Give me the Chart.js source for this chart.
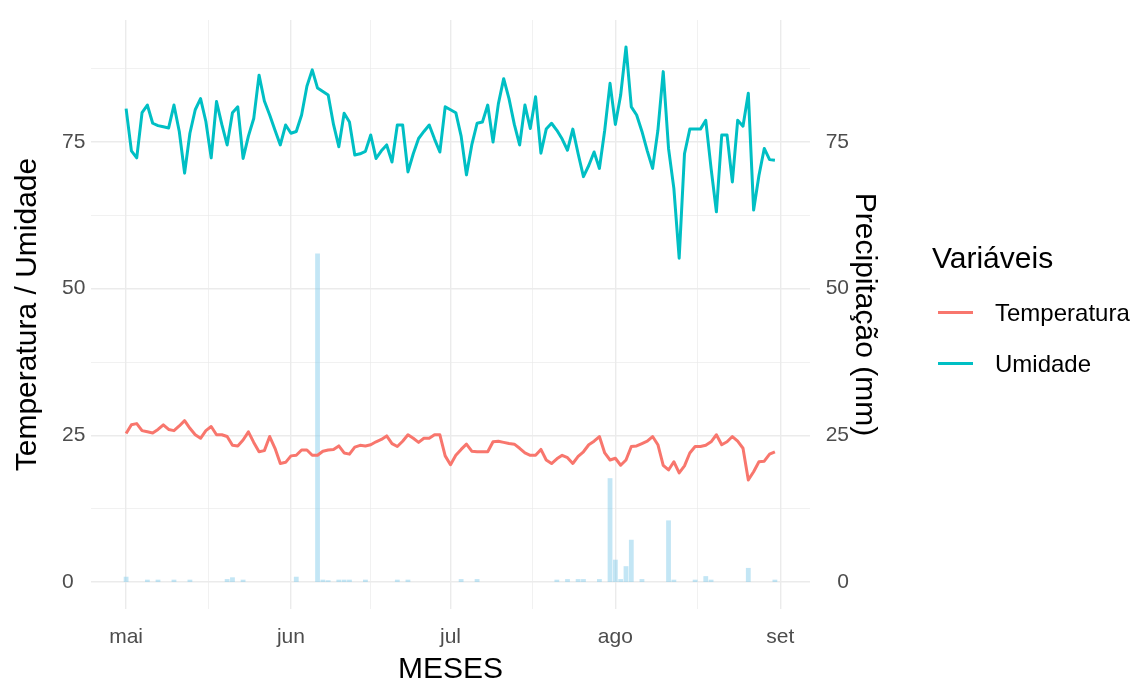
<!DOCTYPE html>
<html lang="pt-BR">
<head>
<meta charset="utf-8">
<title>Temperatura, Umidade e Precipitação</title>
<script src="https://cdn.jsdelivr.net/npm/chart.js@4.4.1/dist/chart.umd.min.js"></script>
<style>
  html, body { margin: 0; padding: 0; background: #fff; }
  #wrap { position: relative; width: 1139px; height: 684px; font-family: "Liberation Sans", Arial, sans-serif; color: #000; }
  #grafico { position: absolute; left: 0; top: 0; }
  .leg-titulo { position: absolute; left: 932px; top: 243px; font-size: 30px; line-height: 30px; white-space: nowrap; }
  .leg-item { position: absolute; left: 938px; height: 24px; white-space: nowrap; }
  .leg-linha { position: absolute; left: 0; top: 10px; width: 35px; height: 3px; }
  .leg-texto { position: absolute; left: 57px; top: 0; font-size: 24px; line-height: 24px; }
</style>
</head>
<body>
<div id="wrap">
  <canvas id="grafico" width="1139" height="684"></canvas>
  <div id="legenda"></div>
</div>
<script>
// Dias de 1º de maio a 31 de agosto (índice 0 = 1º de maio)
const mesesPos = [0, 31, 61, 92, 123];
const mesesRotulos = ['mai', 'jun', 'jul', 'ago', 'set'];
const yRotulos = [0, 25, 50, 75];

// Temperatura média diária (°C)
const temperatura = [
  // maio
  25.3, 26.8, 27.0, 25.8, 25.6, 25.4, 26.0, 26.8, 26.0, 25.8, 26.6, 27.5, 26.2, 25.1, 24.5, 25.8,
  26.5, 25.1, 25.1, 24.8, 23.3, 23.2, 24.2, 25.6, 23.8, 22.2, 22.4, 24.8, 22.8, 20.2, 20.4,
  // junho
  21.5, 21.6, 22.5, 22.5, 21.6, 21.6, 22.3, 22.5, 22.6, 23.2, 22.0, 21.8, 23.0, 23.3, 23.2,
  23.4, 23.9, 24.3, 24.9, 23.6, 23.1, 24.0, 25.1, 24.5, 23.8, 24.5, 24.5, 25.1, 25.1, 21.5,
  // julho
  20.0, 21.6, 22.6, 23.5, 22.3, 22.2, 22.2, 22.2, 23.9, 24.0, 23.8, 23.6, 23.5, 22.8, 22.0, 21.6,
  21.6, 22.6, 20.8, 20.2, 21.0, 21.6, 21.2, 20.2, 21.4, 22.2, 23.4, 24.0, 24.8, 22.0, 20.8,
  // agosto
  21.1, 19.9, 20.8, 23.1, 23.2, 23.6, 24.0, 24.8, 23.4, 19.9, 19.1, 20.5, 18.6, 19.8, 22.0, 23.1,
  23.1, 23.3, 23.9, 25.1, 23.4, 23.9, 24.8, 24.0, 22.8, 17.4, 18.8, 20.5, 20.6, 21.8, 22.2
];

// Umidade relativa média diária (%)
const umidade = [
  // maio
  80.7, 73.5, 72.3, 80.0, 81.3, 78.2, 77.8, 77.6, 77.4, 81.3, 76.8, 69.7, 76.5, 80.5, 82.4, 78.5,
  72.3, 81.9, 78.0, 74.5, 80.0, 81.0, 72.2, 76.0, 79.0, 86.4, 82.0, 79.6, 77.0, 74.5, 77.9,
  // junho
  76.5, 76.8, 79.6, 84.5, 87.3, 84.2, 83.6, 83.0, 78.0, 74.2, 79.9, 78.4, 72.8, 73.0, 73.4,
  76.2, 72.2, 73.5, 74.5, 71.6, 77.9, 77.9, 69.9, 73.0, 75.6, 76.8, 77.9, 75.5, 73.3, 81.0,
  // julho
  80.5, 80.0, 76.0, 69.4, 74.5, 78.2, 78.4, 81.3, 75.0, 81.5, 85.8, 82.4, 78.0, 74.5, 81.3, 77.3,
  82.7, 73.1, 77.2, 78.2, 77.0, 75.5, 73.6, 77.2, 73.0, 69.1, 71.0, 73.3, 70.5, 77.0, 85.0,
  // agosto
  78.0, 83.0, 91.2, 81.0, 79.6, 76.8, 73.5, 70.5, 77.0, 87.0, 73.9, 67.1, 55.2, 73.0, 77.2, 77.2,
  77.2, 78.7, 70.5, 63.1, 76.2, 76.2, 68.2, 78.7, 77.7, 83.3, 63.4, 69.3, 73.9, 72.0, 71.9
];

// Precipitação diária (mm)
const precipitacao = [
  // maio
  0.9, 0, 0, 0, 0.4, 0, 0.4, 0, 0, 0.4, 0, 0, 0.4, 0, 0, 0,
  0, 0, 0, 0.5, 0.8, 0, 0.4, 0, 0, 0, 0, 0, 0, 0, 0,
  // junho
  0, 0.9, 0, 0, 0, 56.0, 0.4, 0.3, 0, 0.4, 0.4, 0.4, 0, 0, 0.4,
  0, 0, 0, 0, 0, 0.4, 0, 0.4, 0, 0, 0, 0, 0, 0, 0,
  // julho
  0, 0, 0.5, 0, 0, 0.5, 0, 0, 0, 0, 0, 0, 0, 0, 0, 0,
  0, 0, 0, 0, 0.4, 0, 0.5, 0, 0.5, 0.5, 0, 0, 0.5, 0, 17.7,
  // agosto
  3.8, 0.5, 2.7, 7.2, 0, 0.5, 0, 0, 0, 0, 10.5, 0.4, 0, 0, 0, 0.4,
  0, 1.0, 0.4, 0, 0, 0, 0, 0, 0, 2.4, 0, 0, 0, 0, 0.4
];

const series = ['Temperatura', 'Umidade'];
const cores = ['#F8766D', '#00BFC4'];
const corChuva = 'rgba(135, 206, 235, 0.5)';

// grade: quebras principais nos inícios de mês e secundárias entre elas
const xGrade = [];
mesesPos.forEach((v, i) => {
  xGrade.push(v);
  if (i < mesesPos.length - 1) xGrade.push((v + mesesPos[i + 1]) / 2);
});
const yGrade = [];
yRotulos.forEach(v => { yGrade.push(v); yGrade.push(v + 12.5); });

const fonte = '"Liberation Sans", Arial, sans-serif';
const cinzaTexto = '#4D4D4D';
const corGrade = '#EBEBEB';
const yMin = -4.6, yMax = 95.8;
const fonteTick = { family: fonte, size: 21 };
const fonteTitulo = { family: fonte, size: 30, lineHeight: 1 };

const pontos = arr => arr.map((v, i) => ({ x: i, y: v }));

new Chart(document.getElementById('grafico'), {
  type: 'line',
  data: {
    datasets: [
      {
        type: 'bar', label: 'Precipitação', data: pontos(precipitacao), yAxisID: 'y2',
        backgroundColor: corChuva, borderWidth: 0, barPercentage: 1, categoryPercentage: 0.9, order: 3
      },
      {
        type: 'line', label: series[0], data: pontos(temperatura), yAxisID: 'y',
        borderColor: cores[0], borderWidth: 3, pointRadius: 0, tension: 0,
        borderJoinStyle: 'round', borderCapStyle: 'butt', order: 2
      },
      {
        type: 'line', label: series[1], data: pontos(umidade), yAxisID: 'y',
        borderColor: cores[1], borderWidth: 3, pointRadius: 0, tension: 0,
        borderJoinStyle: 'round', borderCapStyle: 'butt', order: 1
      }
    ]
  },
  options: {
    responsive: false,
    animation: false,
    events: [],
    layout: { padding: { top: 20, right: 290, bottom: 0, left: 62 } },
    plugins: { legend: { display: false }, tooltip: { enabled: false } },
    scales: {
      x: {
        type: 'linear', min: -6.6, max: 128.6, offset: false,
        afterBuildTicks: s => { s.ticks = xGrade.map(v => ({ value: v })); },
        afterFit: s => { s.height = 75; },
        ticks: {
          autoSkip: false, maxRotation: 0, color: cinzaTexto, padding: 16, font: fonteTick,
          callback: v => { const i = mesesPos.indexOf(v); return i >= 0 ? mesesRotulos[i] : ''; }
        },
        grid: {
          offset: false, drawTicks: false, color: corGrade,
          lineWidth: c => mesesPos.includes(c.tick.value) ? 1.4 : 0.7
        },
        border: { display: false },
        title: {
          display: true, text: 'MESES', color: '#000', font: fonteTitulo,
          padding: { top: 0, bottom: -1 }
        }
      },
      y: {
        position: 'left', min: yMin, max: yMax,
        afterBuildTicks: s => { s.ticks = yGrade.map(v => ({ value: v })); },
        afterFit: s => { s.width = 29; },
        ticks: {
          autoSkip: false, color: cinzaTexto, crossAlign: 'far', font: fonteTick,
          callback: v => yRotulos.includes(v) ? String(v) : ''
        },
        grid: {
          drawTicks: false, color: corGrade,
          lineWidth: c => yRotulos.includes(c.tick.value) ? 1.4 : 0.7
        },
        border: { display: false },
        title: {
          display: true, text: 'Temperatura / Umidade', color: '#000', font: fonteTitulo,
          padding: { top: -49, bottom: 0 }
        }
      },
      y2: {
        position: 'right', min: yMin, max: yMax,
        afterBuildTicks: s => { s.ticks = yRotulos.map(v => ({ value: v })); },
        afterFit: s => { s.width = 39; },
        ticks: {
          autoSkip: false, color: cinzaTexto, crossAlign: 'far', font: fonteTick,
          callback: v => String(v)
        },
        grid: { display: false, drawTicks: false },
        border: { display: false },
        title: {
          display: true, text: 'Precipitação (mm)', color: '#000', font: fonteTitulo,
          padding: { top: -30, bottom: 0 }
        }
      }
    }
  }
});

// legenda das séries de linha
const legenda = document.getElementById('legenda');
const titulo = document.createElement('div');
titulo.className = 'leg-titulo';
titulo.textContent = 'Variáveis';
legenda.appendChild(titulo);
const topos = [301, 352];
series.forEach((nome, i) => {
  const item = document.createElement('div');
  item.className = 'leg-item';
  item.style.top = topos[i] + 'px';
  const linha = document.createElement('div');
  linha.className = 'leg-linha';
  linha.style.background = cores[i];
  const texto = document.createElement('div');
  texto.className = 'leg-texto';
  texto.textContent = nome;
  item.appendChild(linha);
  item.appendChild(texto);
  legenda.appendChild(item);
});
</script>
</body>
</html>
